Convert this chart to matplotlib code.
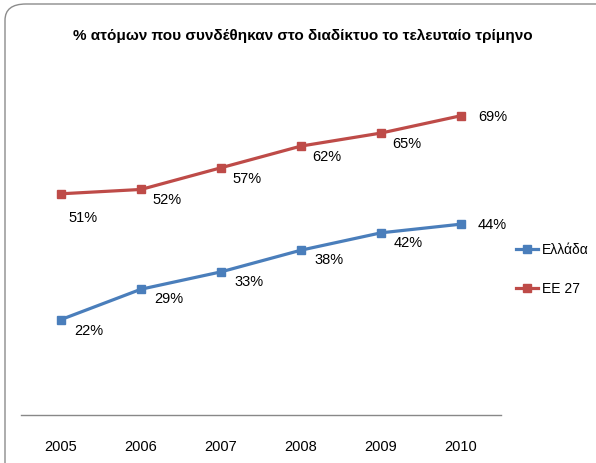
import matplotlib
matplotlib.use("Agg")
import matplotlib.pyplot as plt
from matplotlib.patches import FancyBboxPatch

years = ["2005", "2006", "2007", "2008", "2009", "2010"]
greece = [22, 29, 33, 38, 42, 44]
eu27 = [51, 52, 57, 62, 65, 69]
title = "% ατόμων που συνδέθηκαν στο διαδίκτυο το τελευταίο τρίμηνο"
series_names = ["Ελλάδα", "ΕΕ 27"]

FONT = ["Liberation Sans", "DejaVu Sans"]
plt.rcParams['font.family'] = FONT

fig = plt.figure(figsize=(5.96, 4.64), dpi=100)
W, H = 596, 464

# chart frame
frame = FancyBboxPatch((5 / W, -0.1), 1.2, 1.1 - 5 / H,
                       boxstyle="round,pad=0,rounding_size=0.035",
                       transform=fig.transFigure, facecolor="white",
                       edgecolor="#8c8c8c", linewidth=1.0, clip_on=False,
                       zorder=-5)
fig.patches.append(frame)

ax = fig.add_axes([21 / W, 1 - 416 / H, (501 - 21) / W, (416 - 69) / H])
ax.set_zorder(2)
ax.set_facecolor("none")
x = list(range(len(years)))
blue = "#4A7EBB"
red = "#BE4B48"
ax.plot(x, greece, color=blue, lw=2.3, marker="s", ms=6, label=series_names[0])
ax.plot(x, eu27, color=red, lw=2.3, marker="s", ms=6, label=series_names[1])
ax.set_xlim(-0.5, len(years) - 0.5)
ax.set_ylim(0, 80)
ax.set_xticks(x)
ax.set_xticklabels(years, fontsize=10.5)
ax.tick_params(axis="x", length=0, pad=17)
ax.set_yticks([])
for s in ["top", "right", "left"]:
    ax.spines[s].set_visible(False)
ax.spines["bottom"].set_color("#888888")
ax.spines["bottom"].set_linewidth(1.0)

def lab(i, v, dx, dy, ha="left"):
    ax.annotate(f"{v}%", (i, v), xytext=(dx, dy), textcoords="offset pixels",
                ha=ha, va="center", fontsize=10.5)

for i, v in enumerate(greece):
    if i == len(greece) - 1:
        lab(i, v, 17, 0)
    else:
        lab(i, v, 13, -10 if i == 0 else -9)
for i, v in enumerate(eu27):
    if i == len(eu27) - 1:
        lab(i, v, 17, 0)
    elif i == 0:
        lab(i, v, 7, -23)
    else:
        lab(i, v, 11, -10)

fig.text(0.5 * (78 + 527) / W, 1 - 36 / H, title, ha="center", va="center",
         fontsize=11, fontweight="bold", zorder=3)

leg = fig.legend(loc="center left", bbox_to_anchor=(503 / W, 1 - 270 / H),
                 frameon=False, fontsize=10, handlelength=1.6,
                 labelspacing=1.8, handletextpad=0.3)
leg.set_zorder(3)

fig.savefig("out.png", dpi=100)
